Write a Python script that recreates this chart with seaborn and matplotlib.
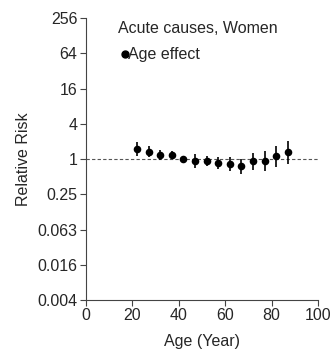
import matplotlib
matplotlib.use("Agg")
import matplotlib.pyplot as plt
import seaborn as sns
import numpy as np
import pandas as pd

ages = [22, 27, 32, 37, 42, 47, 52, 57, 62, 67, 72, 77, 82, 87]
rr = [1.48, 1.33, 1.18, 1.16, 1.00, 0.91, 0.92, 0.855, 0.82, 0.75, 0.91, 0.935, 1.11, 1.30]
lower = [1.14, 1.08, 0.98, 1.00, 0.93, 0.69, 0.76, 0.67, 0.62, 0.56, 0.65, 0.63, 0.73, 0.83]
upper = [1.92, 1.64, 1.42, 1.35, 1.08, 1.20, 1.13, 1.09, 1.08, 1.00, 1.29, 1.38, 1.69, 2.03]
ytick_vals = [4.0**k for k in range(-4, 5)]
ytick_labels = ["0.004", "0.016", "0.063", "0.25", "1", "4", "16", "64", "256"]
xtick_vals = [0, 20, 40, 60, 80, 100]

df = pd.DataFrame({"age": ages, "rr": rr, "lo": lower, "hi": upper})

sns.set_style("ticks")
plt.rcParams["font.family"] = ["Liberation Sans", "DejaVu Sans"]

fig = plt.figure(figsize=(3.33, 3.54), dpi=100)
ax = fig.add_axes([0.258, 0.1525, 0.697, 0.7965])

ax.set_yscale("log", base=2)
ax.axhline(1, color="#555555", lw=0.8, ls=(0, (3, 2)), zorder=1)
ax.vlines(df["age"], df["lo"], df["hi"], color="black", lw=1.2, zorder=2)
sns.scatterplot(data=df, x="age", y="rr", color="black", s=30, edgecolor="black",
                linewidth=0, ax=ax, zorder=3, legend=False)

ax.set_xlim(0, 100)
ax.set_ylim(4.0**-4, 4.0**4)
ax.set_xticks(xtick_vals)
ax.set_xticklabels([str(v) for v in xtick_vals])
ax.set_yticks(ytick_vals)
ax.set_yticklabels(ytick_labels)
ax.minorticks_off()
ax.tick_params(axis="both", labelsize=11.5, length=4, width=0.8, color="#444444", pad=2)
for s in ["top", "right"]:
    ax.spines[s].set_visible(False)
for s in ["left", "bottom"]:
    ax.spines[s].set_color("#444444")
    ax.spines[s].set_linewidth(0.8)

ax.set_xlabel("Age (Year)", fontsize=11.5, labelpad=8)
ax.set_ylabel("Relative Risk", fontsize=11.5, labelpad=5)

ax.text(0.14, 0.99, "Acute causes, Women", transform=ax.transAxes, fontsize=11.5,
        va="top", ha="left")
ax.plot([0.168], [0.872], transform=ax.transAxes, marker="o", color="black",
        markersize=5, clip_on=False)
ax.text(0.182, 0.872, "Age effect", transform=ax.transAxes, fontsize=11.5,
        va="center", ha="left")

fig.savefig("out.png", dpi=100)
